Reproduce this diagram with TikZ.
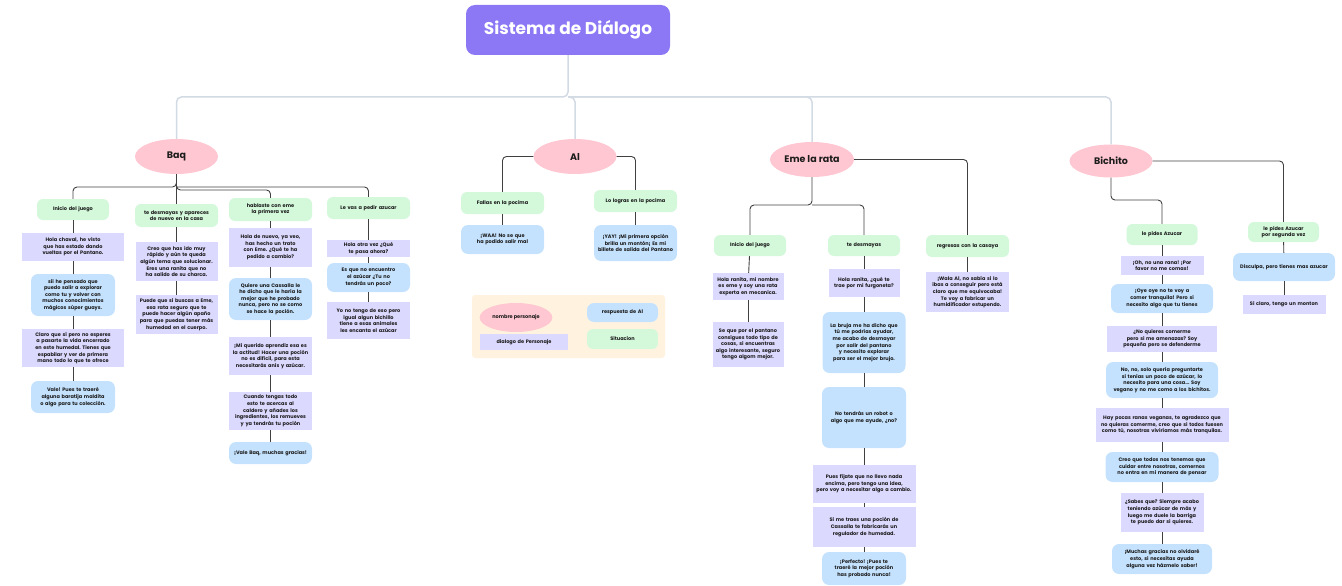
\documentclass[tikz,border=0pt]{standalone}
\usepackage{fontspec}
\setmainfont{Poppins}
\usepackage{tikz}
\usetikzlibrary{shapes.geometric}
\hyphenpenalty=10000
\exhyphenpenalty=10000
\frenchspacing
\definecolor{ink}{HTML}{1C1C1C}
\definecolor{violet}{HTML}{8C77F4}
\definecolor{rose}{HTML}{FFC7D1}
\definecolor{mint}{HTML}{D3F8DA}
\definecolor{lilac}{HTML}{DCD9FF}
\definecolor{sky}{HTML}{C4E2FE}
\definecolor{cream}{HTML}{FFF3E0}
\definecolor{wire}{HTML}{404040}
\definecolor{trunkc}{HTML}{D2DAE3}
\tikzset{
  txt/.style={font=\fontsize{5}{6.6}\selectfont\bfseries, text=ink, align=center, inner sep=2pt},
  sz/.style 2 args={text width=#1pt-6pt, minimum width=#1pt, minimum height=#2pt},
  titlebox/.style={fill=violet, rounded corners=9pt, text=white, font=\fontsize{17}{20}\selectfont\bfseries,
    minimum width=204pt, minimum height=50pt},
  persona/.style={ellipse, fill=rose, text=ink, font=\fontsize{9.5}{11}\selectfont\bfseries,
    minimum width=83pt, minimum height=35pt, inner sep=0pt},
  situ/.style={txt, fill=mint, rounded corners=6pt},
  dialogo/.style={txt, fill=lilac},
  resp/.style={txt, fill=sky, rounded corners=7pt},
  link/.style={draw=wire, line width=0.9pt},
  trunk/.style={draw=trunkc, line width=1.5pt, rounded corners=5pt},
}
\begin{document}
\begin{tikzpicture}[x=1pt, y=-1pt]
  \useasboundingbox (0,0) rectangle (1342,586);
  \node[titlebox] (title) at (568,30) {Sistema de Diálogo};
  \node[persona] (baq) at (176.5,156.5) {Baq};
  \node[persona] (al) at (575,156.5) {Al};
  \node[persona, minimum width=84pt] (eme) at (812,159.5) {Eme la rata};
  \node[persona, minimum height=33pt] (bich) at (1111,161) {Bichito};
  \coordinate (hub) at (568,97);
  \draw[trunk] (title) -- (hub) -| (baq);
  \draw[trunk] (hub) -| (al);
  \draw[trunk] (hub) -| (eme);
  \draw[trunk] (hub) -| (bich);

  \node[situ, sz={72}{21}] (bs1) at (73,209.5) {Inicio del juego};
  \node[situ, sz={83}{23}] (bs2) at (176.5,215.5) {te desmayas y apareces de nuevo en la casa};
  \node[situ, sz={83}{23}] (bs3) at (270.5,209.5) {hablaste con eme la primera vez};
  \node[situ, sz={83}{22}] (bs4) at (368.5,208) {Le vas a pedir azucar};
  \coordinate (baqfork) at (176.5,187);
  \coordinate (baqforkb) at (176.5,190);
  \draw[link, rounded corners=4pt] (baq) -- (baqfork) -| (bs1);
  \draw[link] (baq) -- (bs2);
  \draw[link, rounded corners=4pt] (baq) -- (baqforkb) -| (bs3);
  \draw[link, rounded corners=4pt] (baqfork) -| (bs4);

  \node[dialogo, sz={102}{28}] (b1a) at (73,247) {Hola chaval, he visto que has estado dando vueltas por el Pantano.};
  \node[resp, sz={84}{42}] (b1b) at (73,295) {sii he pensado que puedo salir a explorar como tu y volver con muchos conocimientos mágicos súper guays.};
  \node[dialogo, sz={102}{38}] (b1c) at (73,348) {Claro que sí pero no esperes a pasarte la vida encerrado en este humedal. Tienes que espabilar y ver de primera mano todo lo que te ofrece};
  \node[resp, sz={84}{32}] (b1d) at (73,397) {Vale! Pues te traeré alguna baratija maldita o algo para tu colección.};
  \draw[link] (bs1) -- (b1a);
  \draw[link] (b1a) -- (b1b);
  \draw[link] (b1b) -- (b1c);
  \draw[link] (b1c) -- (b1d);

  \node[dialogo, sz={82}{39}] (b2a) at (176.5,261.5) {Creo que has ido muy rápido y aún te queda algún tema que solucionar. Eres una ranita que no ha salido de su charca.};
  \node[dialogo, sz={82}{39}] (b2b) at (176.5,314.5) {Puede que si buscas a Eme, esa rata seguro que te puede hacer algún apaño para que puedas tener más humedad en el cuerpo.};
  \draw[link] (bs2) -- (b2a);
  \draw[link] (b2a) -- (b2b);

  \node[dialogo, sz={83}{39}] (b3a) at (270.5,247.5) {Hola de nuevo, ya veo, has hecho un trato con Eme. ¿Qué te ha pedido a cambio?};
  \node[resp, sz={83}{42}] (b3b) at (270.5,299) {Quiere una Cassalla le he dicho que le haría la mejor que he probado nunca, pero no se como se hace la poción.};
  \node[dialogo, sz={83}{38}] (b3c) at (270.5,356) {¡Mi querido aprendiz esa es la actitud! Hacer una poción no es difícil, para esta necesitarás anís y azúcar.};
  \node[dialogo, sz={83}{38}] (b3d) at (270.5,411) {Cuando tengas todo esto te acercas al caldero y añades los ingredientes, los remueves y ya tendrás tu poción};
  \node[resp, sz={83}{22}] (b3e) at (270.5,453) {¡Vale Baq, muchas gracias!};
  \draw[link] (bs3) -- (b3a);
  \draw[link] (b3a) -- (b3b);
  \draw[link] (b3b) -- (b3c);
  \draw[link] (b3c) -- (b3d);
  \draw[link] (b3d) -- (b3e);

  \node[dialogo, sz={83}{17}] (b4a) at (368.5,248.5) {Hola otra vez ¿Qué te pasa ahora?};
  \node[resp, sz={83}{29}] (b4b) at (368.5,277.5) {Es que no encuentro el azúcar ¿Tu no tendrás un poco?};
  \node[dialogo, sz={83}{37}] (b4c) at (368.5,320.5) {Yo no tengo de eso pero igual algun bichillo tiene a esas animales les encanta el azúcar};
  \draw[link] (bs4) -- (b4a);
  \draw[link] (b4a) -- (b4b);
  \draw[link] (b4b) -- (b4c);

  \node[situ, sz={83}{22}] (as1) at (502.5,203) {Fallas en la pocima};
  \node[situ, sz={83}{22}] (as2) at (635.5,201) {Lo logras en la pocima};
  \node[resp, sz={83}{29}] (a1a) at (502.5,239.5) {¡WAA! No se que ha podido salir mal};
  \node[resp, sz={83}{36}] (a2a) at (635.5,243) {¡YAY! ¡Mi primera opción brilla un montón¡ Es mi billete de salida del Pantano};
  \draw[link, rounded corners=4pt] (al.west) -| (as1);
  \draw[link, rounded corners=4pt] (al.east) -| (as2);
  \draw[link] (as1) -- (a1a);
  \draw[link] (as2) -- (a2a);

  \fill[cream, rounded corners=3pt] (472,295) rectangle (665,358);
  \node[persona, txt, fill=rose, minimum width=72pt, minimum height=29pt] (lg1) at (516,317.5) {nombre personaje};
  \node[dialogo, sz={88}{16}] (lg2) at (524,342) {dialogo de Personaje};
  \node[resp, sz={71}{19}] (lg3) at (622.5,312.5) {respuesta de Al};
  \node[situ, sz={71}{20}] (lg4) at (622.5,339) {Situacion};

  \node[situ, sz={72}{21}] (es1) at (750,245.5) {Inicio del juego};
  \node[situ, sz={72}{21}] (es2) at (864,245.5) {te desmayas};
  \node[situ, sz={83}{22}] (es3) at (967.5,246) {regresas con la casaya};
  \coordinate (emefork) at (812,205);
  \draw[link, rounded corners=4pt] (eme) -- (emefork) -| (es1);
  \draw[link, rounded corners=4pt] (emefork) -| (es2);
  \draw[link, rounded corners=4pt] (eme.east) -| (es3);

  \node[dialogo, sz={71}{27}] (e1a) at (748,286.5) {Hola ranita, mi nombre es eme y soy una rata experta en mecanica.};
  \node[dialogo, sz={71}{45}] (e1b) at (748,344.5) {Se que por el pantano consigues todo tipo de cosas, si encuentras algo interesante, seguro tengo algom mejor.};
  \draw[link] (es1) -- (e1a);
  \draw[link] (e1a) -- (e1b);

  \node[dialogo, sz={71}{28}] (e2a) at (864,283) {Hola ranita, ¿qué te trae por mi furgoneta?};
  \node[resp, sz={83}{61}] (e2b) at (864,342.5) {La bruja me ha dicho que tú me podrías ayudar, me acabo de desmayar por salir del pantano y necesito explorar para ser el mejor brujo.};
  \node[resp, sz={84}{61}] (e2c) at (864,417.5) {No tendrás un robot o algo que me ayude, ¿no?};
  \node[dialogo, sz={103}{38}] (e2d) at (864,484) {Pues fíjate que no llevo nada encima, pero tengo una idea, pero voy a necesitar algo a cambio.};
  \node[dialogo, sz={103}{40}] (e2e) at (864,527) {Si me traes una poción de Cassalla te fabricarás un regulador de humedad.};
  \node[resp, sz={84}{33}] (e2f) at (864,568.5) {¡Perfecto! ¡Pues te traeré la mejor poción has probado nunca!};
  \draw[link] (es2) -- (e2a);
  \draw[link] (e2a) -- (e2b);
  \draw[link] (e2b) -- (e2c);
  \draw[link] (e2c) -- (e2d);
  \draw[link] (e2d) -- (e2e);
  \draw[link] (e2e) -- (e2f);

  \node[dialogo, sz={83}{40}] (e3a) at (967.5,292) {¡Wala Al, no sabía si lo ibas a conseguir pero está claro que me equivocaba! Te voy a fabricar un humidificador estupendo.};
  \draw[link] (es3) -- (e3a);

  \node[situ, sz={71}{21}] (bis1) at (1162,234.5) {le pides Azucar};
  \node[situ, sz={71}{20}] (bis2) at (1283.5,232) {le pides Azucar por segunda vez};
  \coordinate (bichfork) at (1111,200);
  \draw[link, rounded corners=4pt] (bich) -- (bichfork) -| (bis1);
  \draw[link, rounded corners=4pt] (bich.east) -| (bis2);

  \node[dialogo, sz={83}{19}] (c1a) at (1162,265.5) {¡Oh, no una rana! ¡Por favor no me comas!};
  \node[resp, sz={102}{29}] (c1b) at (1162,298.5) {¡Oye oye no te voy a comer tranquila! Pero si necesito algo que tu tienes};
  \node[dialogo, sz={110}{26}] (c1c) at (1162,339) {¿No quieres comerme pero si me amenazas? Soy pequeña pero se defenderme};
  \node[resp, sz={112}{36}] (c1d) at (1162,380) {No, no, solo quería preguntarte si tenías un poco de azúcar, lo necesito para una cosa... Soy vegano y no me como a los bichitos.};
  \node[dialogo, sz={133}{34}] (c1e) at (1162,425) {Hay pocas ranas veganas, te agradezco que no quieras comerme, creo que si todos fuesen como tú, nosotras viviríamos más tranquilas.};
  \node[resp, sz={113}{30}] (c1f) at (1162,467) {Creo que todos nos tenemos que cuidar entre nosotras, comernos no entra en mi manera de pensar};
  \node[dialogo, sz={83}{39}] (c1g) at (1162,512.5) {¿Sabes que? Siempre acabo teniendo azúcar de más y luego me duele la barriga te puedo dar si quieres.};
  \node[resp, sz={100}{30}] (c1h) at (1162,559) {¡Muchas gracias no olvidaré esto, si necesitas ayuda alguna vez házmelo saber!};
  \draw[link] (bis1) -- (c1a);
  \draw[link] (c1a) -- (c1b);
  \draw[link] (c1b) -- (c1c);
  \draw[link] (c1c) -- (c1d);
  \draw[link] (c1d) -- (c1e);
  \draw[link] (c1e) -- (c1f);
  \draw[link] (c1f) -- (c1g);
  \draw[link] (c1g) -- (c1h);

  \node[resp, sz={102}{28}] (c2a) at (1284,267) {Disculpa, pero tienes mas azucar};
  \node[dialogo, sz={83}{19}] (c2b) at (1284,304.5) {Si claro, tengo un monton};
  \draw[link] (bis2) -- (c2a);
  \draw[link] (c2a) -- (c2b);
\end{tikzpicture}
\end{document}
